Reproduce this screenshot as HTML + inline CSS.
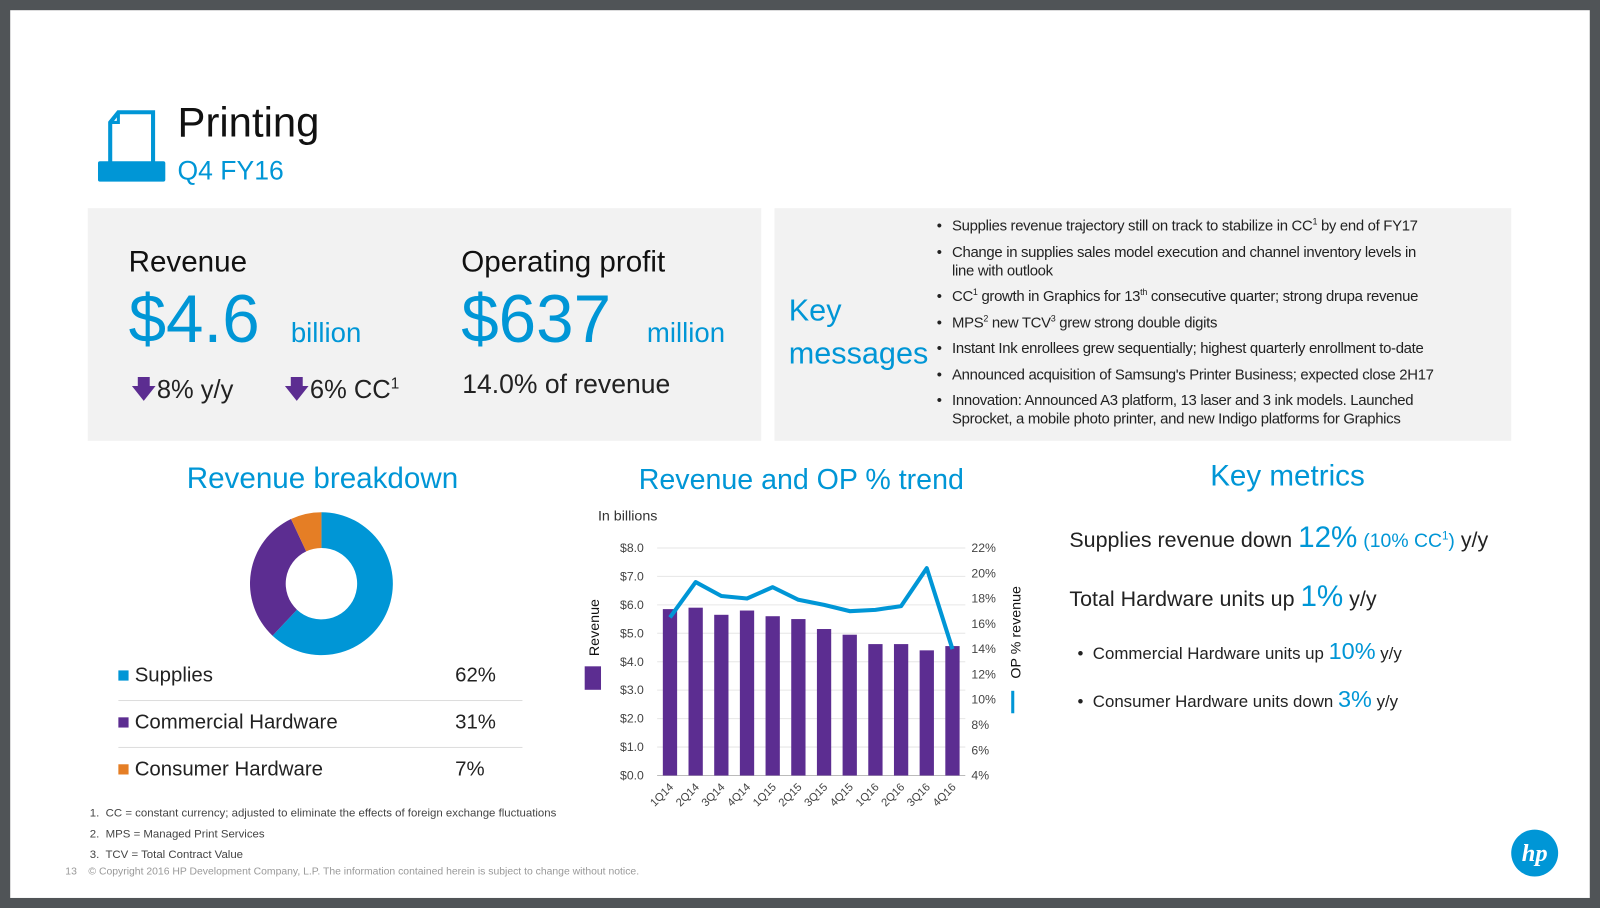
<!DOCTYPE html>
<html><head><meta charset="utf-8"><style>
*{margin:0;padding:0;box-sizing:border-box}
html,body{width:1600px;height:908px;overflow:hidden}
body{background:#505457;position:relative;font-family:"Liberation Sans",sans-serif;color:#222}
#wrap{position:absolute;left:0;top:0;width:1568px;height:890px;transform:scale(1.0204);transform-origin:0 0}
#slide{position:absolute;left:10px;top:10px;width:1548px;height:870px;background:#fff}
.a{position:absolute;white-space:nowrap}
.blue{color:#0096d6}
.box{position:absolute;background:#f2f2f2}
ul.km{position:absolute;left:918px;top:213px;width:565px;list-style:none;font-size:14.6px;line-height:18px;color:#222;letter-spacing:-0.3px}
ul.km li{position:relative;padding-left:15px;margin-bottom:7.5px}
ul.km li:before{content:"•";position:absolute;left:0;top:0}
sup{font-size:60%;line-height:0}
.leg{position:absolute;left:116px;width:396px;height:46px;border-bottom:1px solid #ddd;font-size:20px}
</style></head><body><div id="wrap">
<div id="slide"></div>
<svg class="a" style="left:96px;top:106px" width="68" height="76">
<path d="M12 14 L20 4 L54 4 L54 60 L12 60 Z" fill="none" stroke="#0096d6" stroke-width="4"/>
<path d="M12 14 L20 14 L20 4" fill="none" stroke="#0096d6" stroke-width="3"/>
<rect x="0" y="52" width="66" height="20" rx="2" fill="#0096d6"/>
</svg>
<div class="a" style="left:174px;top:97px;font-size:41px;color:#111">Printing</div>
<div class="a blue" style="left:174px;top:152px;font-size:26px">Q4 FY16</div>

<div class="box" style="left:86px;top:204px;width:660px;height:228px"></div>
<div class="a" style="left:126px;top:241px;font-size:29px;color:#111">Revenue</div>
<div class="a blue" style="left:126px;top:274px;font-size:66px">$4.6</div>
<div class="a blue" style="left:285px;top:311px;font-size:27px">billion</div>
<div class="a" style="left:128px;top:363px;font-size:25px"><span style="color:#5c2d91">🡇</span>8% y/y</div>
<div class="a" style="left:278px;top:363px;font-size:25px"><span style="color:#5c2d91">🡇</span>6% CC<sup>1</sup></div>
<div class="a" style="left:452px;top:241px;font-size:29px;color:#111">Operating profit</div>
<div class="a blue" style="left:452px;top:274px;font-size:66px">$637</div>
<div class="a blue" style="left:634px;top:311px;font-size:27px">million</div>
<div class="a" style="left:453px;top:361px;font-size:26px">14.0% of revenue</div>

<div class="box" style="left:759px;top:204px;width:722px;height:228px"></div>
<div class="a blue" style="left:773px;top:284px;font-size:30px;line-height:42px">Key<br>messages</div>
<ul class="km">
<li>Supplies revenue trajectory still on track to stabilize in CC<sup>1</sup> by end of FY17</li>
<li>Change in supplies sales model execution and channel inventory levels in<br>line with outlook</li>
<li>CC<sup>1</sup> growth in Graphics for 13<sup>th</sup> consecutive quarter; strong drupa revenue</li>
<li>MPS<sup>2</sup> new TCV<sup>3</sup> grew strong double digits</li>
<li>Instant Ink enrollees grew sequentially; highest quarterly enrollment to-date</li>
<li>Announced acquisition of Samsung's Printer Business; expected close 2H17</li>
<li>Innovation: Announced A3 platform, 13 laser and 3 ink models. Launched<br>Sprocket, a mobile photo printer, and new Indigo platforms for Graphics</li>
</ul>

<div class="a blue" style="left:183px;top:453px;font-size:29px">Revenue breakdown</div>
<svg class="a" style="left:240px;top:498px" width="150" height="150" id="donut"></svg>
<div class="leg" style="top:641px"><span style="position:absolute;left:0;top:16px;width:10px;height:10px;background:#0096d6"></span><span class="a" style="left:16px;top:10px">Supplies</span><span class="a" style="left:330px;top:10px">62%</span></div>
<div class="leg" style="top:687px"><span style="position:absolute;left:0;top:16px;width:10px;height:10px;background:#5c2d91"></span><span class="a" style="left:16px;top:10px">Commercial Hardware</span><span class="a" style="left:330px;top:10px">31%</span></div>
<div class="leg" style="top:733px;border:none"><span style="position:absolute;left:0;top:16px;width:10px;height:10px;background:#e57e25"></span><span class="a" style="left:16px;top:10px">Consumer Hardware</span><span class="a" style="left:330px;top:10px">7%</span></div>

<div class="a blue" style="left:626px;top:454px;font-size:28px">Revenue and OP % trend</div>
<svg class="a" style="left:560px;top:490px" width="460" height="310" id="chart"></svg>

<div class="a blue" style="left:1186px;top:451px;font-size:29px">Key metrics</div>
<div class="a" style="left:1048px;top:511px;font-size:21px">Supplies revenue down <span class="blue" style="font-size:29px">12%</span> <span class="blue" style="font-size:19px">(10% CC<sup>1</sup>)</span> y/y</div>
<div class="a" style="left:1048px;top:569px;font-size:21px">Total Hardware units up <span class="blue" style="font-size:29px">1%</span> y/y</div>
<div class="a" style="left:1056px;top:625px;font-size:16.5px">•&nbsp; Commercial Hardware units up <span class="blue" style="font-size:23px">10%</span> y/y</div>
<div class="a" style="left:1056px;top:672px;font-size:16.5px">•&nbsp; Consumer Hardware units down <span class="blue" style="font-size:23px">3%</span> y/y</div>

<div class="a" style="left:88px;top:787px;font-size:11.2px;line-height:20.5px;color:#444">1.&nbsp; CC = constant currency; adjusted to eliminate the effects of foreign exchange fluctuations<br>2.&nbsp; MPS = Managed Print Services<br>3.&nbsp; TCV = Total Contract Value</div>
<div class="a" style="left:64px;top:849px;font-size:10.2px;color:#999">13&nbsp;&nbsp;&nbsp; © Copyright 2016 HP Development Company, L.P. The information contained herein is subject to change without notice.</div>
<svg class="a" style="left:1480px;top:812px" width="48" height="48"><circle cx="24" cy="24" r="23" fill="#0096d6"/><text x="24" y="32" text-anchor="middle" font-family="Liberation Serif" font-style="italic" font-weight="bold" font-size="24" fill="#fff">hp</text></svg>
</div>
<script>
const NS="http://www.w3.org/2000/svg";
function mk(p,t,a){const e=document.createElementNS(NS,t);for(const k in a)e.setAttribute(k,a[k]);p.appendChild(e);return e;}
// donut data
const segLabels=["Supplies","Commercial Hardware","Consumer Hardware"];
const segValues=[62,31,7];
const segColors=["#0096d6","#5c2d91","#e57e25"];
const d=document.getElementById("donut");
let acc=0;const cx=75,cy=74,R=70,r=35;
segValues.forEach((v,i)=>{
 const a0=acc/100*2*Math.PI,a1=(acc+v)/100*2*Math.PI;acc+=v;
 const p=(rad,a)=>[cx+rad*Math.sin(a),cy-rad*Math.cos(a)];
 const [x0,y0]=p(R,a0),[x1,y1]=p(R,a1),[x2,y2]=p(r,a1),[x3,y3]=p(r,a0);
 const lg=v>50?1:0;
 const e=mk(d,"path",{d:`M${x0} ${y0}A${R} ${R} 0 ${lg} 1 ${x1} ${y1}L${x2} ${y2}A${r} ${r} 0 ${lg} 0 ${x3} ${y3}Z`,fill:segColors[i]});
 
 
});
// trend chart data
const quarters=["1Q14","2Q14","3Q14","4Q14","1Q15","2Q15","3Q15","4Q15","1Q16","2Q16","3Q16","4Q16"];
const revenue=[5.85,5.9,5.65,5.8,5.6,5.5,5.15,4.95,4.62,4.62,4.4,4.55];
const opPct=[16.5,19.3,18.2,18.0,18.9,17.9,17.5,17.0,17.1,17.4,20.4,14.0];
const leftTicks=[0,1,2,3,4,5,6,7,8];
const rightTicks=[4,6,8,10,12,14,16,18,20,22];
const c=document.getElementById("chart");
const X0=84,X1=386,Yb=270,Yt=47;
const yL=v=>Yb-(v/8)*(Yb-Yt);
const yR=v=>Yb-((v-4)/18)*(Yb-Yt);
const step=(X1-X0)/quarters.length;
const xC=i=>X0+step*(i+0.5);
leftTicks.forEach(t=>{
 const g=mk(c,"line",{x1:X0,x2:X1,y1:yL(t),y2:yL(t),stroke:t?"#e6e6e6":"#bbb","stroke-width":1});
 
 const l=mk(c,"text",{x:71,y:yL(t)+4,"text-anchor":"end","font-size":12,fill:"#444"});l.textContent="$"+t.toFixed(1);
 
});
rightTicks.forEach(t=>{
 const l=mk(c,"text",{x:392,y:yR(t)+4,"font-size":12,fill:"#444"});l.textContent=t+"%";
 
});
revenue.forEach((v,i)=>{
 const b=mk(c,"rect",{x:xC(i)-7,y:yL(v),width:14,height:Yb-yL(v),fill:"#5c2d91"});
 
 const l=mk(c,"text",{x:xC(i)+4,y:Yb+12,"text-anchor":"end","font-size":11,fill:"#444",transform:`rotate(-45 ${xC(i)+4} ${Yb+12})`});l.textContent=quarters[i];
 
});
const ln=mk(c,"polyline",{points:opPct.map((v,i)=>xC(i)+","+yR(v)).join(" "),fill:"none",stroke:"#0096d6","stroke-width":4,"stroke-linejoin":"round"});

const t1=mk(c,"text",{x:26,y:20,"font-size":14,fill:"#333"});t1.textContent="In billions";

const t2=mk(c,"text",{x:0,y:0,"font-size":14,fill:"#111",transform:"translate(27 153) rotate(-90)"});t2.textContent="Revenue";

const s1=mk(c,"rect",{x:13,y:163,width:16,height:23,fill:"#5c2d91"});

const t3=mk(c,"text",{x:0,y:0,"font-size":14,fill:"#111",transform:"translate(440 175) rotate(-90)"});t3.textContent="OP % revenue";

const s2=mk(c,"rect",{x:431,y:187,width:3,height:22,fill:"#0096d6"});

</script>
</body></html>
